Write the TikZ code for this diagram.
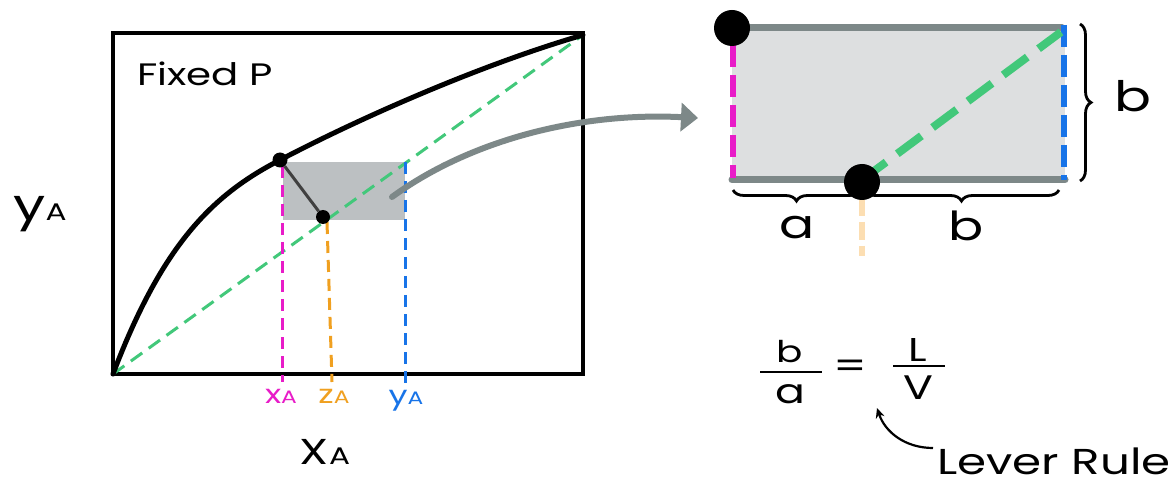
\documentclass[tikz,border=0pt]{standalone}
\usepackage{fontspec}
\setmainfont{Poppins}[FakeStretch=1.3]
\usetikzlibrary{arrows.meta,decorations.pathreplacing}
\definecolor{pinkc}{RGB}{232,28,200}
\definecolor{orangec}{RGB}{240,160,32}
\definecolor{bluec}{RGB}{24,116,232}
\definecolor{greenc}{RGB}{66,200,122}
\definecolor{grayc}{RGB}{125,136,136}
\definecolor{shadec}{RGB}{188,192,194}
\definecolor{lightshade}{RGB}{221,223,224}
\definecolor{paleorange}{RGB}{252,222,178}
\newcommand{\fs}[1]{\fontsize{#1}{#1}\selectfont}
\tikzset{
  dotnode/.style={circle,fill=black,inner sep=0pt,minimum size=#1},
  vdash/.style={line width=3pt,dash pattern=on 12pt off 7pt},
  bigdash/.style={line width=6pt,dash pattern=on 22pt off 8pt},
  lbl/.style={inner sep=0pt,font=\fs{#1}},
  bracestyle/.style={line width=2.8pt,decorate,decoration={brace,amplitude=11pt}},
}
\begin{document}
\begin{tikzpicture}[x=1pt,y=-1pt]
\useasboundingbox[fill=white] (0,0) rectangle (1175,486);
% left panel
\fill[shadec] (283,162) rectangle (405,220);
\draw[line width=4pt] (113,33) rectangle (583,374);
\draw[greenc,line width=3pt,dash pattern=on 14pt off 8pt] (113,374) -- (583,35);
\draw[line width=5pt,line cap=round] (113,374) .. controls (162,245) and (212,195) .. (280,160) .. controls (360,118) and (480,65) .. (583,35);
\draw[pinkc,vdash] (282,166) -- (282,382);
\draw[bluec,vdash] (405,162) -- (405,384);
\draw[orangec,vdash] (327,222) -- (332,382);
\node[dotnode=15pt] (v) at (280,160) {};
\node[dotnode=14pt] (z) at (323,217) {};
\draw[black!75,line width=3pt] (v) -- (z);
\node[lbl=31] (fp) at (205,74) {Fixed P};
\node[lbl=44] (ya) at (40,214) {y\fs{24}A};
\node[lbl=36] (xa) at (325,452) {X\fs{24}A};
\node[lbl=26,pinkc] (lx) at (281,396) {x\fs{18}A};
\node[lbl=26,orangec] (lz) at (334,396) {z\fs{18}A};
\node[lbl=26,bluec] (ly) at (406,401) {y\fs{18}A};
% gray arrow
\coordinate (as) at (392,197);
\coordinate (ae) at (698,118);
\draw[grayc,line width=6pt,line cap=round,-{Triangle[length=17pt,width=28pt]}] (as) .. controls (470,140) and (580,112) .. (ae);
% right panel
\fill[lightshade] (732,28) rectangle (1065,180);
\draw[grayc,line width=7pt,line cap=round] (740,28) -- (1062,28);
\draw[grayc,line width=7pt,line cap=round] (732,180) -- (1065,180);
\draw[pinkc,bigdash] (733,45) -- (733,178);
\draw[bluec,bigdash] (1064,25) -- (1064,180);
\draw[greenc,line width=8pt,dash pattern=on 30pt off 14pt] (862,180) -- (1061,32);
\draw[paleorange,line width=6pt,dash pattern=on 18pt off 6pt] (862,198) -- (862,256);
\node[dotnode=36pt] (v2) at (732,28) {};
\node[dotnode=36pt] (z2) at (862,182) {};
\draw[bracestyle,decoration={mirror}] (733,190) -- (860,190);
\draw[bracestyle,decoration={mirror}] (864,190) -- (1059,190);
\draw[bracestyle] (1080,24) -- (1080,181);
\node[lbl=40] (la) at (797,228) {a};
\node[lbl=40] (lb) at (966,226) {b};
\node[lbl=42] (lb2) at (1133,96) {b};
% formula
\node[lbl=30] (fb) at (790,352) {b};
\node[lbl=34] (fa) at (790,394) {a};
\draw[line width=1.6pt] (760,372) -- (822,372);
\node[lbl=36] (eq) at (850,369) {=};
\node[lbl=33] (fl) at (918,350) {L};
\draw[line width=1.6pt] (893,366) -- (945,366);
\node[lbl=34] (fv) at (918,388) {V};
\node[lbl=36] (lr) at (1054,461) {Lever Rule};
\coordinate (ls) at (933,448);
\draw[line width=2.2pt,-{Stealth[length=10pt,width=9pt]}] (ls) .. controls (905,448) and (885,432) .. (877,408);
\end{tikzpicture}
\end{document}
